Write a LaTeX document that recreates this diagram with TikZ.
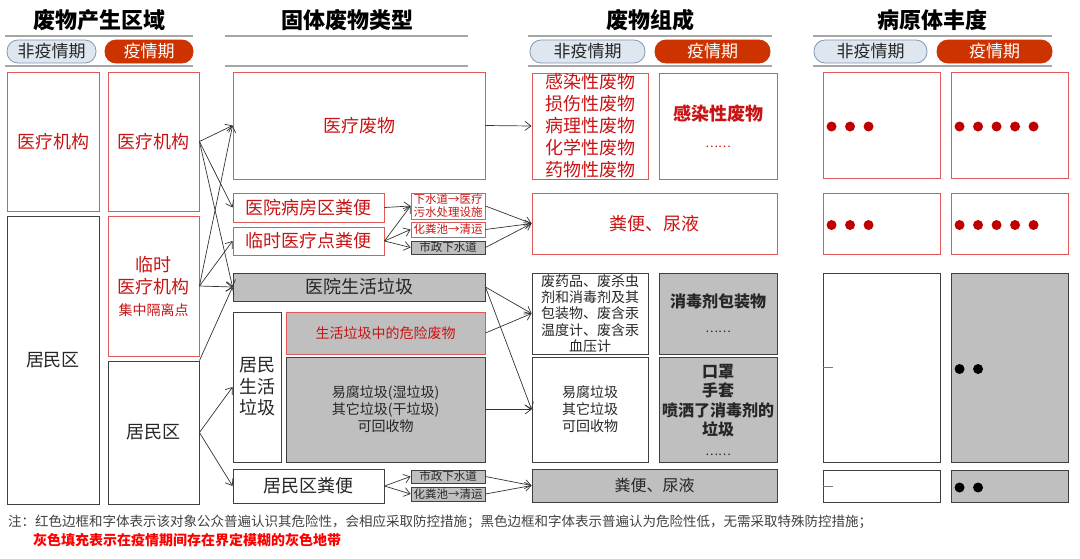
\documentclass[tikz,border=0pt]{standalone}
\usepackage{fontspec}
\setmainfont{Noto Sans CJK SC}
\usetikzlibrary{arrows.meta}
\definecolor{redln}{RGB}{222,90,90}
\definecolor{redtx}{RGB}{200,20,20}
\definecolor{dotred}{RGB}{192,0,0}
\definecolor{grayfill}{RGB}{191,191,191}
\definecolor{blkln}{RGB}{64,64,64}
\definecolor{pillbl}{RGB}{222,230,240}
\definecolor{pillbd}{RGB}{132,151,176}
\definecolor{pillrd}{RGB}{204,51,0}
\definecolor{hdln}{RGB}{166,166,166}
\newcommand{\fs}[2]{\fontsize{#1}{#2}\selectfont}
\begin{document}
\begin{tikzpicture}[x=1pt, y=-1pt]
  \tikzset{
    box/.style={draw, line width=0.9pt, inner sep=0pt, align=center},
    redbox/.style={box, draw=redln, text=redtx},
    blkbox/.style={box, draw=blkln, text=black!85},
    graybox/.style={blkbox, fill=grayfill},
    pill/.style={draw=pillbd, fill=pillbl, line width=0.8pt, rounded corners=11pt,
      minimum height=23pt, inner sep=0pt, font=\fs{17}{20}, text=black!85},
    pillred/.style={pill, draw=pillrd, fill=pillrd, text=white},
    hline/.style={draw=hdln, line width=1.2pt},
    head/.style={font=\fs{22}{24}\bfseries},
    arr/.style={draw=black!80, line width=0.7pt, -{Straight Barb[length=6pt,width=9pt]}}
  }
  \useasboundingbox (0,0) rectangle (1080,558);
  % headers
  \node[head] (h1) at (100,20) {废物产生区域};
  \node[head] (h2) at (347,20) {固体废物类型};
  \node[head] (h3) at (650,20) {废物组成};
  \node[head] (h4) at (932,20) {病原体丰度};
  \foreach \a/\b in {5/193, 225/468, 528/772, 813/1052} {
    \draw[hline] (\a,36) -- (\b,36);
    \draw[hline] (\a,66) -- (\b,66);
  }
  \node[pill, minimum width=89pt] (pa1) at (51.5,51.5) {非疫情期};
  \node[pillred, minimum width=88pt] (pb1) at (149,51.5) {疫情期};
  \node[pill, minimum width=115pt] (pa3) at (587.5,51.5) {非疫情期};
  \node[pillred, minimum width=115pt] (pb3) at (712.5,51.5) {疫情期};
  \node[pill, minimum width=113pt] (pa4) at (870.5,51.5) {非疫情期};
  \node[pillred, minimum width=115pt] (pb4) at (994.5,51.5) {疫情期};

  % source areas
  \node[redbox, minimum width=92pt, minimum height=139pt, font=\fs{18}{22}] (s1med) at (53,141.5) {医疗机构};
  \node[blkbox, minimum width=92pt, minimum height=288pt, font=\fs{18}{22}] (s1res) at (53,360) {居民区};
  \node[redbox, minimum width=91pt, minimum height=139pt, font=\fs{18}{22}] (s2med) at (153.5,141.5) {医疗机构};
  \node[redbox, minimum width=91pt, minimum height=140pt, font=\fs{18}{22}] (s2tmp) at (153.5,286)
    {临时\\医疗机构\\{\fs{14}{18}集中隔离点}};
  \node[blkbox, minimum width=91pt, minimum height=143pt, font=\fs{18}{22}] (s2res) at (153.5,432.5) {居民区};

  % waste types
  \node[redbox, minimum width=252pt, minimum height=107pt, font=\fs{18}{22}] (tmed) at (359,125.5) {医疗废物};
  \node[redbox, minimum width=151pt, minimum height=29pt, font=\fs{18}{22}] (tward) at (308.5,207.5) {医院病房区粪便};
  \node[redbox, minimum width=151pt, minimum height=28pt, font=\fs{18}{22}] (tclin) at (308.5,241) {临时医疗点粪便};
  \node[redbox, minimum width=74pt, minimum height=26pt, font=\fs{11.5}{13}] (psewer) at (448,206) {下水道→医疗\\污水处理设施};
  \node[redbox, minimum width=74pt, minimum height=15pt, font=\fs{11.5}{13}] (psep) at (448,229.5) {化粪池→清运};
  \node[graybox, minimum width=74pt, minimum height=13pt, font=\fs{11.5}{13}] (pmun) at (448,247.5) {市政下水道};
  \node[graybox, minimum width=252pt, minimum height=28pt, font=\fs{18}{22}] (thosp) at (359,287) {医院生活垃圾};
  \node[blkbox, minimum width=48pt, minimum height=150pt, font=\fs{18}{21.5}] (tres) at (257,387) {居民\\生活\\垃圾};
  \node[graybox, draw=redln, text=redtx, minimum width=199pt, minimum height=42pt, font=\fs{14}{17}] (thaz) at (385.5,333) {生活垃圾中的危险废物};
  \node[graybox, minimum width=199pt, minimum height=105pt, font=\fs{14}{17}] (tgen) at (385.5,409.5)
    {易腐垃圾(湿垃圾)\\其它垃圾(干垃圾)\\可回收物};
  \node[blkbox, minimum width=151pt, minimum height=34pt, font=\fs{18}{22}] (tfec) at (308.5,486) {居民区粪便};
  \node[graybox, minimum width=74pt, minimum height=13pt, font=\fs{11.5}{13}] (rmun) at (448,476.5) {市政下水道};
  \node[graybox, minimum width=74pt, minimum height=14pt, font=\fs{11.5}{13}] (rsep) at (448,494) {化粪池→清运};

  % composition
  \node[redbox, minimum width=116pt, minimum height=106pt, font=\fs{18}{22}] (cmedA) at (590,126)
    {感染性废物\\损伤性废物\\病理性废物\\化学性废物\\药物性废物};
  \node[redbox, minimum width=118pt, minimum height=106pt, font=\fs{18}{27}\bfseries] (cmedB) at (718,126)
    {感染性废物\\{\fs{12}{14}\mdseries ……}};
  \node[redbox, minimum width=245pt, minimum height=61pt, font=\fs{18}{22}] (cfec) at (654.5,223.5) {粪便、尿液};
  \node[blkbox, minimum width=116pt, minimum height=81pt, font=\fs{14}{16.3}] (chospA) at (590,313.5)
    {废药品、废杀虫\\剂和消毒剂及其\\包装物、废含汞\\温度计、废含汞\\血压计};
  \node[graybox, minimum width=118pt, minimum height=81pt, font=\fs{16}{25}\bfseries] (chospB) at (718,313.5)
    {消毒剂包装物\\{\fs{12}{14}\mdseries ……}};
  \node[blkbox, minimum width=116pt, minimum height=105pt, font=\fs{14}{17}] (cgenA) at (590,409.5)
    {易腐垃圾\\其它垃圾\\可回收物};
  \node[graybox, minimum width=118pt, minimum height=105pt, font=\fs{16}{19.5}\bfseries] (cgenB) at (718,409.5)
    {口罩\\手套\\喷洒了消毒剂的\\垃圾\\{\fs{12}{22}\mdseries ……}};
  \node[graybox, minimum width=245pt, minimum height=33pt, font=\fs{16}{20}] (cres) at (654.5,485.5) {粪便、尿液};

  % pathogen abundance
  \node[redbox, minimum width=117pt, minimum height=106pt] (q1a) at (881.5,125) {};
  \node[redbox, minimum width=117pt, minimum height=106pt] (q1b) at (1009.5,125) {};
  \node[redbox, minimum width=117pt, minimum height=61pt] (q2a) at (881.5,223.5) {};
  \node[redbox, minimum width=117pt, minimum height=61pt] (q2b) at (1009.5,223.5) {};
  \node[blkbox, minimum width=117pt, minimum height=189pt] (q3a) at (881.5,367.5) {};
  \node[graybox, minimum width=117pt, minimum height=189pt] (q3b) at (1009.5,367.5) {};
  \node[blkbox, minimum width=117pt, minimum height=32pt] (q4a) at (881.5,486) {};
  \node[graybox, minimum width=117pt, minimum height=32pt] (q4b) at (1009.5,486) {};
  \foreach \n/\k/\c in {q1a/2/dotred, q1b/4/dotred, q2a/2/dotred, q2b/4/dotred, q3b/1/black, q4b/1/black}
    \foreach \i in {0,...,\k}
      \fill[\c] ([shift={(9+18.5*\i,1.5)}]\n.west) circle (5);
  \draw[blkln!70, line width=1pt] (q3a.west) -- ++(10,0);
  \draw[blkln!70, line width=1pt] (q4a.west) -- ++(10,0);

  % connectors
  \foreach \t in {tmed, tward, thosp} \draw[arr] (s2med.east) -- (\t.west);
  \foreach \t in {tmed, tclin, thosp} \draw[arr] (s2tmp.east) -- (\t.west);
  \draw[arr] (s2res.north east) -- (thosp.west);
  \foreach \t in {tres, tfec} \draw[arr] (s2res.east) -- (\t.west);
  \draw[arr] (tward.east) -- (psewer.west);
  \foreach \t in {psewer, psep, pmun} \draw[arr] (tclin.east) -- (\t.west);
  \foreach \s in {psewer, psep, pmun} \draw[arr] (\s.east) -- (cfec.west);
  \draw[arr] (tmed.east) -- (cmedA.west);
  \draw[arr] (thosp.east) -- (chospA.west);
  \draw[arr] (thosp.east) -- (cgenA.west);
  \draw[arr] (thaz.east) -- (chospA.west);
  \draw[arr] (tgen.east) -- (cgenA.west);
  \foreach \t in {rmun, rsep} \draw[arr] (tfec.east) -- (\t.west);
  \foreach \s in {rmun, rsep} \draw[arr] (\s.east) -- (cres.west);

  % note
  \node[anchor=west, font=\fs{13.5}{16}, text=black!75, inner sep=0pt] (note1) at (8,522)
    {注：红色边框和字体表示该对象公众普遍认识其危险性，会相应采取防控措施；黑色边框和字体表示普遍认为危险性低，无需采取特殊防控措施；};
  \node[anchor=west, font=\fs{14}{16}\bfseries, text=red, inner sep=0pt] (note2) at (33,540)
    {灰色填充表示在疫情期间存在界定模糊的灰色地带};
\end{tikzpicture}
\end{document}
